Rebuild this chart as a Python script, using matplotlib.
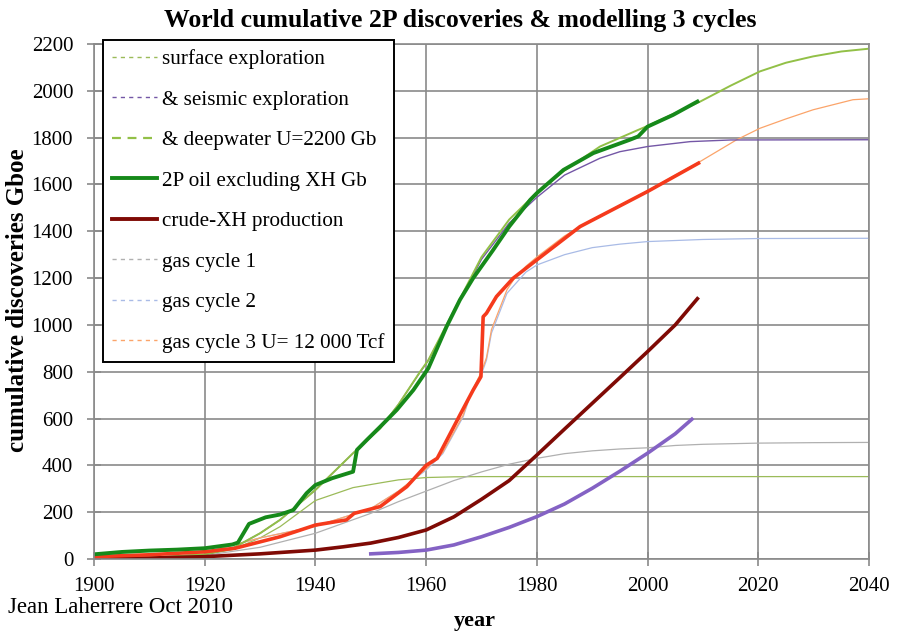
import matplotlib
matplotlib.use("Agg")
import matplotlib.pyplot as plt
from matplotlib.lines import Line2D

plt.rcParams["font.family"] = ["Liberation Serif", "DejaVu Serif"]

# surface exploration (oil cycle 1 model)
surf_years = [1900, 1910, 1920, 1925, 1930, 1933.6, 1936, 1940, 1946.8, 1951.7, 1955, 1960, 1965, 1970, 2040]
surf_vals = [1, 4, 18, 40, 90, 138, 180, 250, 305, 325, 338, 348, 351, 352, 352]

# + seismic exploration (cycles 1+2)
seis_years = [1900, 1910, 1920, 1925, 1930, 1933.6, 1940, 1946.8, 1951.7, 1955, 1958.9, 1960.4, 1965, 1970,
              1975, 1980, 1985, 1991.4, 1995, 2000, 2007.7, 2015, 2040]
seis_vals = [2, 6, 20, 45, 110, 167, 295, 452, 558, 660, 798, 848, 1055, 1280,
             1435, 1545, 1640, 1712, 1740, 1762, 1783, 1790, 1791]

# + deepwater (cycles 1+2+3), U = 2200 Gb
deep_years = [1900, 1910, 1920, 1925, 1930, 1933.6, 1940, 1946.8, 1951.7, 1955, 1958.9, 1960.4, 1965, 1970,
              1975, 1980, 1985, 1991.4, 1998.3, 2000, 2005, 2009.5, 2015, 2020.3, 2025, 2029.9, 2035, 2040]
deep_vals = [2, 6, 20, 45, 110, 167, 295, 452, 558, 660, 800, 850, 1060, 1290,
             1450, 1565, 1660, 1762, 1833, 1850, 1905, 1954, 2022, 2083, 2120, 2147, 2168, 2180]

# 2P oil discoveries excluding extra-heavy
oil_years = [1900, 1905, 1910, 1915, 1920, 1925, 1926, 1928, 1931, 1933.6, 1936, 1938.4, 1940, 1943,
             1946.8, 1947.5, 1949.3, 1951.7, 1954.7, 1957.7, 1960.4, 1963.7, 1966.1, 1968.5, 1972.1,
             1975, 1978.8, 1980, 1984.8, 1990.2, 1996.8, 1998.3, 2000, 2004.6, 2009]
oil_vals = [20, 30, 36, 40, 46, 62, 70, 150, 178, 190, 209, 281, 316, 345,
            373, 466, 509, 565, 637, 722, 815, 993, 1107, 1200, 1320,
            1420, 1534, 1563, 1662, 1734, 1791, 1805, 1847, 1897, 1954]

# crude-XH cumulative production
prod_years = [1900, 1910, 1920, 1930, 1940, 1945, 1950, 1955, 1960, 1965, 1970, 1975, 1980, 1985,
              1990, 1995, 2000, 2005, 2009]
prod_vals = [1, 4, 10, 22, 38, 52, 68, 92, 124, 180, 255, 335, 444, 555,
             665, 775, 886, 1000, 1112]

# 2P gas discoveries
gas_years = [1900, 1910, 1920, 1925.5, 1933.6, 1940, 1945.6, 1947, 1951.7, 1956.5, 1960, 1962, 1964,
             1966.1, 1968.5, 1969.9, 1970.3, 1970.9, 1972.7, 1975.7, 1980, 1987.8, 2000, 2009.2]
gas_vals = [10, 18, 31, 46, 95, 145, 167, 195, 224, 309, 400, 430, 520,
            615, 722, 779, 1035, 1050, 1121, 1199, 1278, 1420, 1570, 1691]

# gas cumulative production
gprod_years = [1950, 1955, 1960, 1965, 1970, 1975, 1980, 1985, 1990, 1995, 2000, 2005, 2008]
gprod_vals = [22, 28, 38, 60, 95, 135, 181, 235, 302, 375, 452, 535, 597]

# gas cycle models
gc1_years = [1900, 1920, 1930, 1940, 1950, 1955, 1960, 1965, 1970, 1975, 1980, 1985, 1990, 1995,
             2000, 2005, 2010, 2020, 2030, 2040]
gc1_vals = [2, 15, 50, 110, 195, 245, 290, 335, 372, 405, 430, 450, 462, 470,
            475, 485, 490, 495, 497, 498]

gc2_years = [1900, 1920, 1930, 1940, 1950, 1955, 1960, 1963, 1966.7, 1968, 1970, 1970.9, 1971.8,
             1974.6, 1978, 1980, 1985, 1990, 1995, 2000, 2010, 2020, 2040]
gc2_vals = [8, 28, 90, 140, 215, 290, 380, 450, 608, 700, 790, 850, 965,
            1135, 1225, 1256, 1300, 1330, 1345, 1356, 1365, 1369, 1370]

gc3_years = [1900, 1920, 1930, 1940, 1950, 1955, 1960, 1963, 1966.7, 1968, 1970, 1970.9, 1971.8,
             1974.6, 1976, 1978, 1980, 1985, 1990, 1995, 2000, 2005, 2009.5, 2016.1, 2020.3, 2025,
             2029.9, 2037.1, 2040]
gc3_vals = [8, 28, 90, 140, 215, 290, 385, 455, 615, 705, 800, 860, 980,
            1150, 1200, 1250, 1290, 1380, 1450, 1510, 1572, 1640, 1698, 1791, 1840, 1880,
            1919, 1962, 1966]

c_surf = "#9bbb59"
c_seis = "#7457a6"
c_deep = "#92c047"
c_oil = "#16891a"
c_prod = "#7f0a05"
c_gas = "#f53a1c"
c_gprod = "#8462c4"
c_gc1 = "#b0b0b0"
c_gc2 = "#a9bbe6"
c_gc3 = "#fba46a"

fig = plt.figure(figsize=(8.98, 6.34), dpi=100)
ax = fig.add_axes([94 / 898, 1 - 559 / 634, 775 / 898, 515 / 634])

ax.plot(surf_years, surf_vals, c=c_surf, lw=0.9)
ax.plot(gc1_years, gc1_vals, c=c_gc1, lw=0.9)
ax.plot(gc2_years, gc2_vals, c=c_gc2, lw=0.9)
ax.plot(gc3_years, gc3_vals, c=c_gc3, lw=0.9)
ax.plot(seis_years, seis_vals, c=c_seis, lw=1.0)
ax.plot(deep_years, deep_vals, c=c_deep, lw=1.4)
ax.plot(gprod_years, gprod_vals, c=c_gprod, lw=2.6)
ax.plot(prod_years, prod_vals, c=c_prod, lw=2.6)
ax.plot(gas_years, gas_vals, c=c_gas, lw=2.6)
ax.plot(oil_years, oil_vals, c=c_oil, lw=2.8)

ax.set_xlim(1900, 2040)
ax.set_ylim(0, 2200)
ax.set_xticks(range(1900, 2041, 20))
ax.set_yticks(range(0, 2201, 200))
ax.grid(True, color="#8a8a8a", lw=1.2)
ax.set_axisbelow(True)
for s in ax.spines.values():
    s.set_color("#8a8a8a")
    s.set_linewidth(1.2)
ax.tick_params(axis="both", direction="inout", length=10, width=1.2, color="#8a8a8a",
               labelsize=15)
ax.tick_params(axis="y", pad=10)
ax.tick_params(axis="x", pad=8)

handles = [
    Line2D([], [], color=c_surf, lw=1.0, ls=(0, (3, 3))),
    Line2D([], [], color=c_seis, lw=1.0, ls=(0, (3, 3))),
    Line2D([], [], color=c_deep, lw=1.6, ls=(0, (4, 3))),
    Line2D([], [], color=c_oil, lw=2.8),
    Line2D([], [], color=c_prod, lw=2.8),
    Line2D([], [], color=c_gc1, lw=1.0, ls=(0, (3, 3))),
    Line2D([], [], color=c_gc2, lw=1.0, ls=(0, (3, 3))),
    Line2D([], [], color=c_gc3, lw=1.0, ls=(0, (3, 3))),
]
labels = ["surface exploration", "& seismic exploration", "& deepwater U=2200 Gb",
          "2P oil excluding XH Gb", "crude-XH production", "gas cycle 1", "gas cycle 2",
          "gas cycle 3 U= 12 000 Tcf"]
leg = ax.legend(handles, labels, loc="upper left", bbox_to_anchor=(0.0116, 1.008),
                fontsize=15.2, frameon=True, fancybox=False, framealpha=1,
                labelspacing=0.98, handlelength=2.1, handletextpad=0.25,
                borderpad=0.45, borderaxespad=0)
leg.get_frame().set_edgecolor("black")
leg.get_frame().set_linewidth(1.4)

fig.text(0.512, 0.968, "World cumulative 2P discoveries & modelling 3 cycles",
         ha="center", va="center", fontsize=18.5, fontweight="bold")
fig.text(0.019, 0.527, "cumulative discoveries Gboe", rotation=90,
         ha="center", va="center", fontsize=18, fontweight="bold")
fig.text(0.529, 0.021, "year", ha="center", va="center", fontsize=16, fontweight="bold")
fig.text(0.009, 0.042, "Jean Laherrere Oct 2010", ha="left", va="center", fontsize=16.5)

fig.savefig("out.png", dpi=100)
